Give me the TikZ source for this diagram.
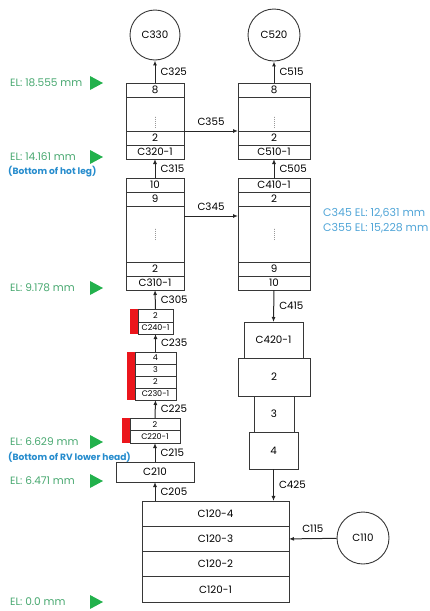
\documentclass[tikz,border=0pt]{standalone}
\usepackage{fontspec}
\setmainfont{Poppins}
\usetikzlibrary{positioning,arrows.meta,calc}
\definecolor{elgreen}{RGB}{72,168,112}
\definecolor{trigreen}{RGB}{34,177,76}
\definecolor{noteblue}{RGB}{38,140,205}
\definecolor{lightblue}{RGB}{80,165,215}
\definecolor{lineblk}{RGB}{55,55,55}
\definecolor{heatred}{RGB}{235,22,28}

\begin{document}
\begin{tikzpicture}[
  x=1pt, y=-1pt,
  >=Latex,
  font=\fontsize{10.3}{11}\selectfont,
  cell/.style 2 args={
    rectangle, draw=lineblk, line width=0.9pt, inner sep=0pt, outer sep=0pt,
    minimum width=#1pt, minimum height=#2pt
  },
  small/.style={font=\fontsize{8}{9}\selectfont},
  vol/.style={circle, draw=lineblk, line width=0.9pt, inner sep=0pt, minimum size=#1pt},
  heat/.style={fill=heatred, inner sep=0pt, outer sep=0pt, minimum width=8pt, minimum height=#1pt},
  arr/.style={-{Latex[length=5pt,width=4pt]}, line width=1pt, draw=black!85},
  lbl/.style={right=4pt, inner sep=1pt},
  skip/.style={draw=black!40, line width=0.8pt, dash pattern=on 0.8pt off 1.2pt},
]
\useasboundingbox (0,0) rectangle (429,611);

% ---- upper volumes ----
\node[vol=50] (c330) at (155,35) {C330};
\node[vol=52] (c520) at (274,35) {C520};
\node[vol=52] (c110) at (363,538) {C110};

% ---- hot leg column (left) ----
\node[cell={58}{14}] (c320a) at (155,90) {8};
\node[cell={58}{34}] (c320b) at (155,114) {};
\node[cell={58}{14}] (c320c) at (155,138) {2};
\node[cell={58}{14}] (c320d) at (155,152) {C320-1};

\node[cell={58}{14}] (c310a) at (155,185) {10};
\node[cell={58}{14}] (c310b) at (155,199) {9};
\node[cell={58}{56}] (c310c) at (155,234) {};
\node[cell={58}{14}] (c310d) at (155,269) {2};
\node[cell={58}{14}] (c310e) at (155,283) {C310-1};

% ---- right column ----
\node[cell={72}{14}] (c510a) at (274,90) {8};
\node[cell={72}{34}] (c510b) at (274,114) {};
\node[cell={72}{14}] (c510c) at (274,138) {2};
\node[cell={72}{14}] (c510d) at (274,152) {C510-1};

\node[cell={72}{14}] (c410a) at (274,185) {C410-1};
\node[cell={72}{14}] (c410b) at (274,199) {2};
\node[cell={72}{56}] (c410c) at (274,234) {};
\node[cell={72}{14}] (c410d) at (274,269) {9};
\node[cell={72}{14}] (c410e) at (274,283) {10};

% skipped cells
\foreach \c/\dy in {c320b/-8pt, c510b/-8pt, c310c/0pt, c410c/0pt}
  \draw[skip] ([yshift=\dy-6pt]\c.center) -- ([yshift=\dy+6pt]\c.center);

\node[cell={59}{36}] (c420a) at (273.5,340) {C420-1};
\node[cell={72}{38}] (c420b) at (274,377) {2};
\node[cell={40}{36}] (c420c) at (274,414) {3};
\node[cell={49}{37}] (c420d) at (273.5,450.5) {4};

% ---- lower head stack ----
\node[heat=25] (r240) at (134,321.5) {};
\node[cell={35}{13}, small] (c240a) at (155.5,315.5) {2};
\node[cell={35}{12}, small] (c240b) at (155.5,328) {C240-1};

\node[heat=48] (r230) at (131,376) {};
\node[cell={41}{12}, small] (c230a) at (155.5,358) {4};
\node[cell={41}{12}, small] (c230b) at (155.5,370) {3};
\node[cell={41}{12}, small] (c230c) at (155.5,382) {2};
\node[cell={41}{12}, small] (c230d) at (155.5,394) {C230-1};

\node[heat=25] (r220) at (126,430.5) {};
\node[cell={50}{12.5}, small] (c220a) at (155,424.25) {2};
\node[cell={50}{12.5}, small] (c220b) at (155,436.75) {C220-1};

\node[cell={78}{20}] (c210) at (155,472) {C210};

\node[cell={147}{25.25}] (c120d) at (215.5,513.6) {C120-4};
\node[cell={147}{25.25}] (c120c) at (215.5,538.9) {C120-3};
\node[cell={147}{25.25}] (c120b) at (215.5,564.1) {C120-2};
\node[cell={147}{25.25}] (c120a) at (215.5,589.4) {C120-1};

% ---- junctions ----
\draw[arr] (c320a.north) -- (c330) node[midway, lbl] {C325};
\draw[arr] (c310a.north) -- (c320d.south) node[midway, lbl] {C315};
\draw[arr] (c240a.north) -- (c310e.south) node[midway, lbl] {C305};
\draw[arr] (c230a.north) -- (c240b.south) node[midway, lbl] {C235};
\draw[arr] (c220a.north) -- (c230d.south) node[midway, lbl] {C225};
\draw[arr] (c210.north) -- (c220b.south) node[midway, lbl] {C215};
\draw[arr] (c210.south |- c120d.north) -- (c210.south) node[midway, lbl] {C205};

\draw[arr] (c510a.north) -- (c520) node[midway, lbl] {C515};
\draw[arr] (c410a.north) -- (c510d.south) node[midway, lbl] {C505};
\draw[arr] (c410e.south) -- (c420a.north) node[midway, lbl] {C415};
\draw[arr] (c420d.south) -- (c420d.south |- c120d.north) node[midway, lbl] {C425};

\draw[arr] (c320b.south east) -- (c510b.south west)
  node[midway, above=2pt] {C355};
\draw[arr] ([yshift=-10pt]c310c.north east) -- ([yshift=-10pt]c410c.north west)
  node[midway, above=2pt] {C345};
\draw[arr] (c110) -- (c120c.east) node[midway, above=2pt] {C115};

% ---- elevations ----
\foreach \y/\t in {83/18.555, 157/14.161, 288/9.178, 442/6.629, 481/6.471, 602/0.0} {
  \node[anchor=west, text=elgreen, inner sep=0pt, font=\fontsize{10.6}{11}\selectfont]
    (el\y) at (10,\y) {EL: \t\ mm};
  \fill[trigreen] (90,\y-7) -- (103,\y) -- (90,\y+7) -- cycle;
}
\node[anchor=west, text=noteblue, inner sep=0pt, font=\fontsize{9.1}{10}\selectfont\bfseries]
  (hotleg) at (8,172) {(Bottom of hot leg)};
\node[anchor=west, text=noteblue, inner sep=0pt, font=\fontsize{9.1}{10}\selectfont\bfseries]
  (rvhead) at (8,457) {(Bottom of RV lower head)};

\node[anchor=west, text=lightblue, inner sep=0pt, font=\fontsize{11}{12}\selectfont]
  (el345) at (323,213) {C345 EL: 12,631 mm};
\node[anchor=west, text=lightblue, inner sep=0pt, font=\fontsize{11}{12}\selectfont]
  (el355) at (323,228) {C355 EL: 15,228 mm};

\end{tikzpicture}
\end{document}
